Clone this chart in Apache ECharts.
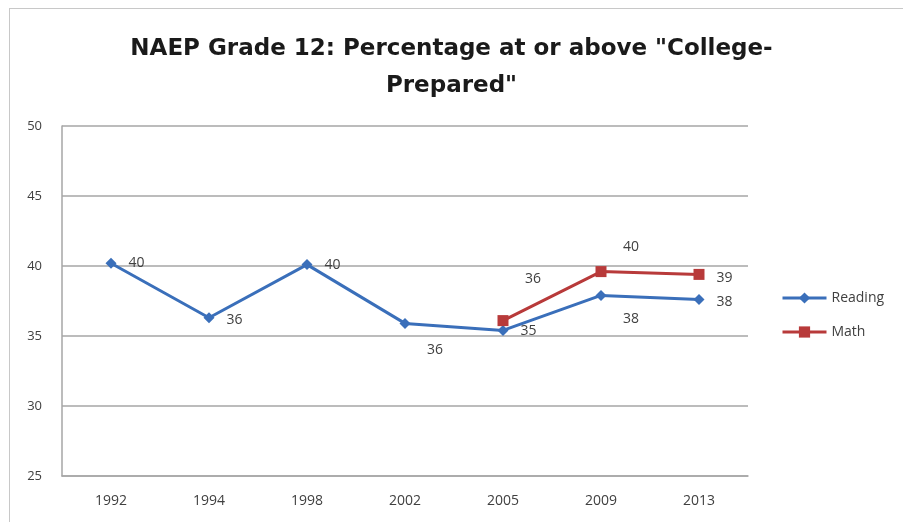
<!DOCTYPE html>
<html><head><meta charset="utf-8">
<script src="https://cdn.jsdelivr.net/npm/echarts@6/dist/echarts.min.js"></script>
<style>
html,body{margin:0;padding:0;background:#fff;}
#frame{position:absolute;left:9px;top:8px;width:920px;height:540px;border:1px solid #c8c8c8;box-sizing:border-box;}
#chart{position:absolute;left:0;top:0;width:903px;height:522px;}
</style></head>
<body>
<div id="frame"></div>
<div id="chart"></div>
<script>
const titleText = 'NAEP Grade 12: Percentage at or above "College-\nPrepared"';
const categories = ['1992','1994','1998','2002','2005','2009','2013'];
const readingValues = [40.2, 36.3, 40.1, 35.9, 35.4, 37.9, 37.6];
const mathValues = [null, null, null, null, 36.1, 39.6, 39.4];
const yTicks = [25, 30, 35, 40, 45, 50];

// label placement per point (style only)
const readingLabelOffsets = [[0,0],[0,2],[0,0],[30,27],[0,1],[30,24],[0,2]];
const readingLabelPos = ['right','right','right','inside','right','inside','right'];
const mathLabelOffsets = [null,null,null,null,[30,-42],[30,-25],[0,4]];
const mathLabelPos = [null,null,null,null,'inside','inside','right'];

const chart = echarts.init(document.getElementById('chart'), null, {renderer:'canvas'});
const labelFont = {fontFamily:'Open Sans', fontSize:14, color:'#404040'};

function mkData(vals, pos, offs){
  return vals.map((v,i)=> v==null ? null : {
    value: v,
    label: Object.assign({show:true, position:pos[i], offset:offs[i], distance:12,
      formatter: p => Math.round(p.value)}, labelFont)
  });
}

chart.setOption({
  animation:false,
  backgroundColor:'transparent',
  title:{
    text:titleText, left:'center', top:26,
    textStyle:{fontFamily:'DejaVu Sans', fontWeight:'bold', fontSize:23, color:'#1a1a1a', lineHeight:37}
  },
  legend:{
    orient:'vertical', left:776, top:286, itemGap:20, itemWidth:44, itemHeight:14,
    lineStyle:{width:3},
    textStyle:{fontFamily:'Open Sans', fontSize:14, color:'#404040'},
    data:['Reading','Math']
  },
  grid:{left:62, right:155, top:126, bottom:46, containLabel:false},
  xAxis:{
    type:'category', data:categories, boundaryGap:true,
    axisLine:{show:true, lineStyle:{color:'#a6a6a6', width:1.5}},
    axisTick:{show:false},
    axisLabel:Object.assign({margin:18}, labelFont)
  },
  yAxis:{
    type:'value', min:25, max:50, interval:5,
    axisLine:{show:true, lineStyle:{color:'#a6a6a6', width:1.5}},
    axisTick:{show:false},
    splitLine:{lineStyle:{color:'#a6a6a6', width:1.5}},
    axisLabel:Object.assign({margin:20, formatter: v => yTicks.includes(v) ? String(v) : ''}, labelFont, {fontSize:13})
  },
  series:[
    {name:'Reading', type:'line', data:mkData(readingValues, readingLabelPos, readingLabelOffsets),
     symbol:'diamond', symbolSize:11, lineStyle:{color:'#3a6fba', width:3},
     itemStyle:{color:'#3a6fba'}, connectNulls:false},
    {name:'Math', type:'line', data:mkData(mathValues, mathLabelPos, mathLabelOffsets),
     symbol:'rect', symbolSize:11, lineStyle:{color:'#b83a3a', width:3},
     itemStyle:{color:'#b83a3a'}, connectNulls:false}
  ]
});
</script>
</body></html>
